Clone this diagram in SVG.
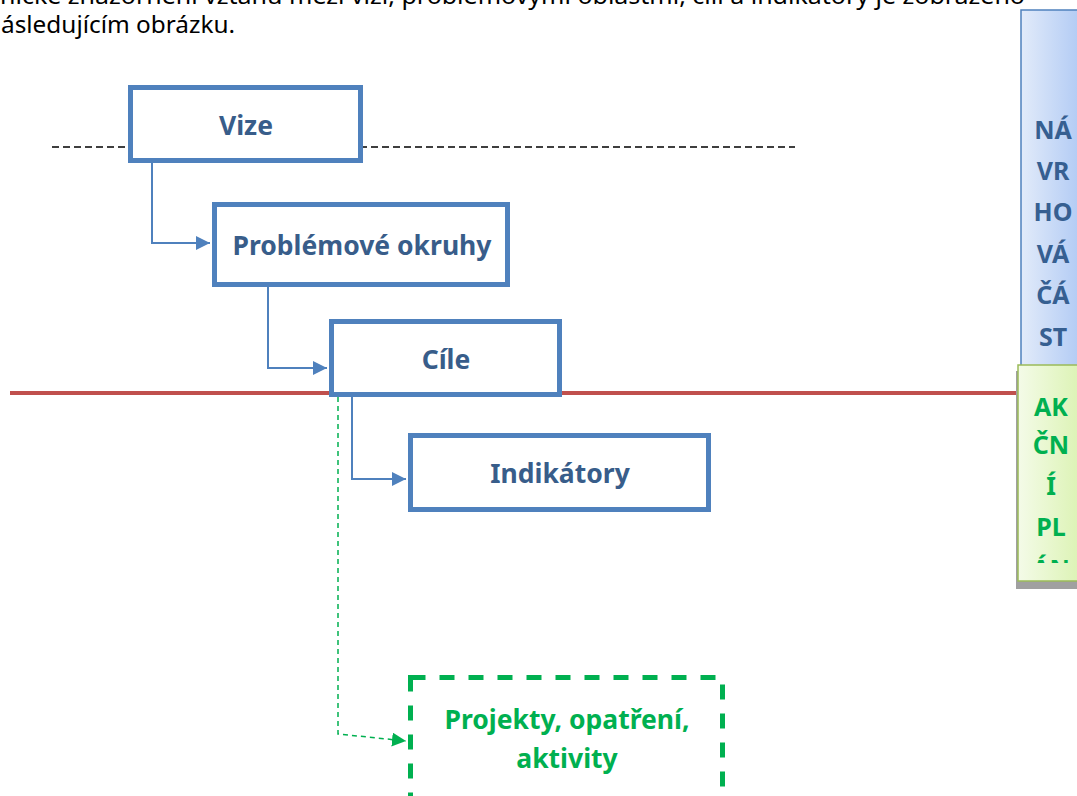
<svg xmlns="http://www.w3.org/2000/svg" width="1077" height="796" viewBox="0 0 1077 796">
<style>
.box{fill:#fff;stroke:#4F81BD;stroke-width:5}
.lbl{font-family:"Noto Sans","Open Sans",sans-serif;font-weight:bold;font-size:26.5px;fill:#385D8A;text-anchor:middle}
.glbl{font-family:"Noto Sans","Open Sans",sans-serif;font-weight:bold;font-size:26.5px;fill:#00B050;text-anchor:middle}
.conn{fill:none;stroke:#4F81BD;stroke-width:2}
.side{font-family:"Noto Sans","Open Sans",sans-serif;font-weight:bold;font-size:25px;text-anchor:middle}
.body{font-family:"Noto Sans","Open Sans",sans-serif;font-size:23px;fill:#000}
</style>
<defs>
<marker id="ab" viewBox="0 0 10 10" refX="10" refY="5" markerWidth="14" markerHeight="14" markerUnits="userSpaceOnUse" orient="auto"><path d="M0,0 L10,5 L0,10 z" fill="#4F81BD"/></marker>
<marker id="ag" viewBox="0 0 10 10" refX="10" refY="5" markerWidth="14" markerHeight="14" markerUnits="userSpaceOnUse" orient="auto"><path d="M0,0 L10,5 L0,10 z" fill="#00B050"/></marker>
<linearGradient id="gb" x1="0" y1="0" x2="1" y2="0"><stop offset="0" stop-color="#E2EBFA"/><stop offset="1" stop-color="#A9C5F3"/></linearGradient>
<linearGradient id="gg" x1="0" y1="0" x2="1" y2="0"><stop offset="0" stop-color="#F4FBE8"/><stop offset="1" stop-color="#D9F2AE"/></linearGradient>
<clipPath id="gclip"><rect x="1018" y="365" width="70" height="198"/></clipPath>
</defs>

<text class="body" x="0" y="4" textLength="1025" lengthAdjust="spacingAndGlyphs">nické znázornění vztahu mezi vizí, problémovými oblastmi, cíli a indikátory je zobrazeno</text>
<text class="body" x="1" y="33" textLength="234" lengthAdjust="spacingAndGlyphs">ásledujícím obrázku.</text>

<line x1="52" y1="147" x2="795" y2="147" stroke="#000" stroke-width="1.5" stroke-dasharray="7 4"/>

<g id="side-navrh">
<rect x="1021" y="10" width="70" height="360" fill="url(#gb)" stroke="#4F81BD" stroke-width="1.5"/>
<text class="side" fill="#365F91" x="1053" y="139">NÁ</text>
<text class="side" fill="#365F91" x="1053" y="180">VR</text>
<text class="side" fill="#365F91" x="1053" y="221">HO</text>
<text class="side" fill="#365F91" x="1053" y="263">VÁ</text>
<text class="side" fill="#365F91" x="1053" y="304">ČÁ</text>
<text class="side" fill="#365F91" x="1053" y="346">ST</text>
</g>

<line x1="10" y1="393" x2="1018" y2="393" stroke="#C0504D" stroke-width="4"/>

<g id="side-akcni">
<rect x="1016" y="371" width="70" height="218" fill="#A0A0A0"/>
<rect x="1018" y="365" width="70" height="216" fill="url(#gg)" stroke="#9BBB59" stroke-width="1.5"/>
<g clip-path="url(#gclip)">
<text class="side" fill="#00B050" x="1051" y="416">AK</text>
<text class="side" fill="#00B050" x="1051" y="454">ČN</text>
<text class="side" fill="#00B050" x="1051" y="495">Í</text>
<text class="side" fill="#00B050" x="1051" y="536">PL</text>
<text class="side" fill="#00B050" x="1051" y="578">ÁN</text>
</g>
</g>

<g id="connectors">
<path class="conn" d="M152,163 V243 H210" marker-end="url(#ab)"/>
<path class="conn" d="M268,287 V368 H327" marker-end="url(#ab)"/>
<path class="conn" d="M352,397 V479 H406" marker-end="url(#ab)"/>
<path d="M338,397 V734 L406,741" fill="none" stroke="#00B050" stroke-width="1.5" stroke-dasharray="5 4" marker-end="url(#ag)"/>
</g>

<g id="vize">
<rect class="box" x="130.5" y="87.5" width="230" height="73"/>
<text class="lbl" x="246" y="135">Vize</text>
</g>
<g id="problemove-okruhy">
<rect class="box" x="214.5" y="204.5" width="293" height="80"/>
<text class="lbl" x="362" y="255">Problémové okruhy</text>
</g>
<g id="cile">
<rect class="box" x="331.5" y="321.5" width="228" height="73"/>
<text class="lbl" x="446" y="369">Cíle</text>
</g>
<g id="indikatory">
<rect class="box" x="410.5" y="435.5" width="298" height="74"/>
<text class="lbl" x="560" y="483">Indikátory</text>
</g>
<g id="projekty">
<rect x="410.5" y="677.5" width="312" height="130" fill="#fff" stroke="#00B050" stroke-width="5" stroke-dasharray="15 14"/>
<text class="glbl" x="567" y="729">Projekty, opatření,</text>
<text class="glbl" x="567" y="768">aktivity</text>
</g>
</svg>
